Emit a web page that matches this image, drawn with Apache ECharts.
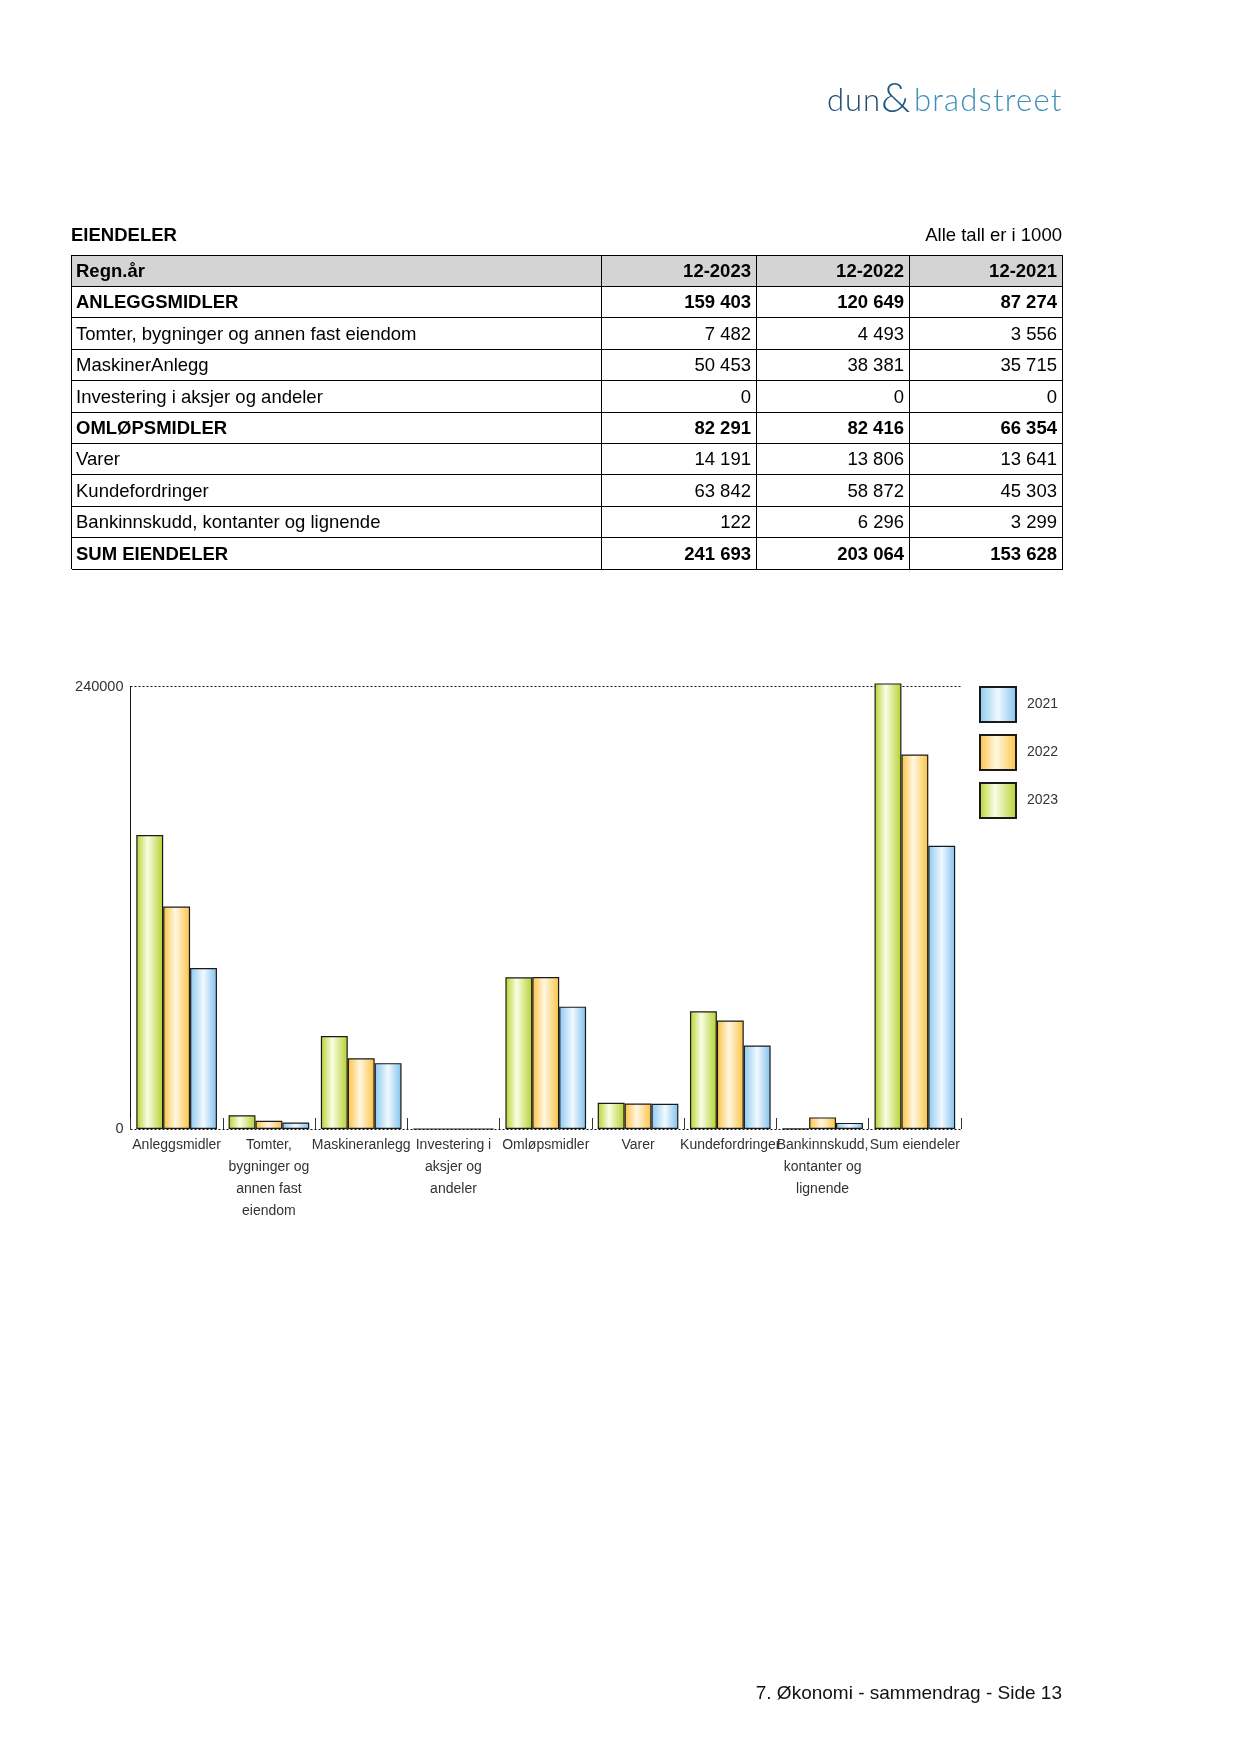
<!DOCTYPE html>
<html><head><meta charset="utf-8">
<script src="https://cdn.jsdelivr.net/npm/echarts@6/dist/echarts.min.js"></script>
<style>
html,body{margin:0;padding:0;background:#fff;}
#page{position:relative;width:1241px;height:1754px;overflow:hidden;font-family:"Liberation Sans",Arial,sans-serif;color:#111;}
#chart{position:absolute;left:0;top:0;width:1241px;height:1754px;}
#overlay{position:absolute;left:0;top:0;width:1241px;height:1754px;pointer-events:none;}
.abs{position:absolute;white-space:nowrap;}
</style></head><body>
<div id="page">
<div id="chart"></div>
<div id="overlay"></div>
</div>
<script>
// ---- data ----
const categories = ['Anleggsmidler', 'Tomter, bygninger og annen fast eiendom', 'Maskineranlegg', 'Investering i aksjer og andeler', 'Omløpsmidler', 'Varer', 'Kundefordringer', 'Bankinnskudd, kontanter og lignende', 'Sum eiendeler'];
const tableLabels = ['ANLEGGSMIDLER', 'Tomter, bygninger og annen fast eiendom', 'MaskinerAnlegg', 'Investering i aksjer og andeler', 'OMLØPSMIDLER', 'Varer', 'Kundefordringer', 'Bankinnskudd, kontanter og lignende', 'SUM EIENDELER'];
const boldRows = [true, false, false, false, true, false, false, false, true];
const headerCols = ['12-2023', '12-2022', '12-2021'];
const legendYears = ['2021', '2022', '2023'];
const values2023 = [159403, 7482, 50453, 0, 82291, 14191, 63842, 122, 241693];
const values2022 = [120649, 4493, 38381, 0, 82416, 13806, 58872, 6296, 203064];
const values2021 = [87274, 3556, 35715, 0, 66354, 13641, 45303, 3299, 153628];
const yTicks = [0, 240000];

// ---- overlay (logo, table, footer) ----
const ov = document.getElementById('overlay');
function add(html, style){ const d=document.createElement('div'); d.className='abs'; d.innerHTML=html; Object.assign(d.style, style); ov.appendChild(d); return d; }
function fmt(n){ return String(n).replace(/\B(?=(\d{3})+(?!\d))/g, ' '); }

// logo
add('dun', {left:'827px', top:'80px', fontFamily:'Lato, "Open Sans", sans-serif', fontWeight:'300', fontSize:'31px', color:'#1d4a70', letterSpacing:'1px'});
add('&amp;', {left:'881px', top:'71px', fontFamily:'Lato, "Open Sans", sans-serif', fontWeight:'300', fontSize:'42px', color:'#1e5784'});
add('bradstreet', {left:'914px', top:'80px', fontFamily:'Lato, "Open Sans", sans-serif', fontWeight:'300', fontSize:'31px', color:'#3d8fba', letterSpacing:'1.2px'});

// title
add('EIENDELER', {left:'71px', top:'224px', fontSize:'18.5px', fontWeight:'bold', color:'#000'});
add('Alle tall er i 1000', {right:'179px', top:'224px', fontSize:'18.5px', color:'#000'});

// table
const tTop = 255, rowH = 31.4, colX = [71.5, 601.5, 756, 909, 1062];
const nRows = tableLabels.length + 1;
add('', {left:colX[0]+'px', top:tTop+'px', width:(colX[4]-colX[0])+'px', height:rowH+'px', background:'#d4d4d4'});
for (let i=0;i<=nRows;i++){
  add('', {left:colX[0]+'px', top:(tTop+i*rowH-0.5)+'px', width:(colX[4]-colX[0]+1)+'px', height:'1px', background:'#000'});
}
colX.forEach(x=>{
  add('', {left:(x-0.5)+'px', top:tTop+'px', width:'1px', height:(nRows*rowH)+'px', background:'#000'});
});
function rowText(r, txt, col, bold){
  const top = tTop + r*rowH;
  const st = {top:top+'px', height:rowH+'px', lineHeight:rowH+'px', fontSize:'18.5px', color:'#000', fontWeight: bold?'bold':'normal'};
  if (col===0){ st.left=(colX[0]+4.5)+'px'; }
  else { st.left=colX[col]+'px'; st.width=(colX[col+1]-colX[col]-5)+'px'; st.textAlign='right'; }
  add(txt, st);
}
rowText(0, 'Regn.år', 0, true);
headerCols.forEach((h,i)=>rowText(0, h, i+1, true));
const seriesVals = [values2023, values2022, values2021];
tableLabels.forEach((lab, i)=>{
  rowText(i+1, lab, 0, boldRows[i]);
  seriesVals.forEach((arr, j)=>rowText(i+1, fmt(arr[i]), j+1, boldRows[i]));
});

// footer
add('7. Økonomi - sammendrag - Side 13', {right:'179px', top:'1682px', fontSize:'19px', color:'#111'});

// ---- chart ----
const mctx = document.createElement('canvas').getContext('2d');
mctx.font = '14px "Liberation Sans"';
function wrapLabel(s){
  const words = s.split(' '); const lines=[]; let cur='';
  for (const w of words){ const t = cur ? cur+' '+w : w; if (cur && mctx.measureText(t).width > 93){ lines.push(cur); cur=w; } else cur=t; }
  lines.push(cur); return lines.join('\n');
}
function grad(c0, cm, pos, c1){
  return new echarts.graphic.LinearGradient(0,0,1,0,[{offset:0,color:c0},{offset:pos,color:cm},{offset:1,color:c1}]);
}
const chart = echarts.init(document.getElementById('chart'), null, {renderer:'canvas'});
const barBase = {type:'bar', barGap:'0%', barCategoryGap:'12.6%', clip:false, animation:false};
chart.setOption({
  animation:false,
  textStyle:{fontFamily:'"Liberation Sans", Arial, sans-serif'},
  grid:{left:130.5, right:280, top:686.5, bottom:625, containLabel:false},
  legend:{
    orient:'vertical', left:979, top:686, padding:0, itemWidth:36, itemHeight:35, itemGap:11, icon:'rect',
    data:legendYears,
    textStyle:{fontSize:14, color:'#333', padding:[0,0,0,6]}
  },
  xAxis:{
    type:'category', data:categories,
    axisLine:{show:false},
    axisTick:{show:true, inside:true, length:11, interval:0, lineStyle:{color:'#333', width:1}},
    axisLabel:{interval:0, fontSize:14, color:'#333', lineHeight:22, margin:5, formatter:wrapLabel}
  },
  yAxis:{
    type:'value', min:yTicks[0], max:yTicks[1], interval:yTicks[1]-yTicks[0],
    axisLine:{show:true, lineStyle:{color:'#111', width:1}},
    axisTick:{show:false},
    axisLabel:{fontSize:14.5, color:'#333', margin:7, formatter:v=>String(v)},
    splitLine:{show:true, lineStyle:{type:[2,2], color:'#111', width:1}}
  },
  series:[
    Object.assign({}, barBase, {name:'2023', data:values2023, itemStyle:{color:grad('#b6d32c','#fafde6',0.42,'#b4d12c'), borderColor:'#1a1a1a', borderWidth:1.2}}),
    Object.assign({}, barBase, {name:'2022', data:values2022, itemStyle:{color:grad('#fcc140','#fff7e2',0.45,'#fbc243'), borderColor:'#1a1a1a', borderWidth:1.2}}),
    Object.assign({}, barBase, {name:'2021', data:values2021, itemStyle:{color:grad('#8ac9f1','#f2f9ff',0.5,'#80c1ed'), borderColor:'#1a1a1a', borderWidth:1.2}})
  ]
});
</script>
</body></html>
